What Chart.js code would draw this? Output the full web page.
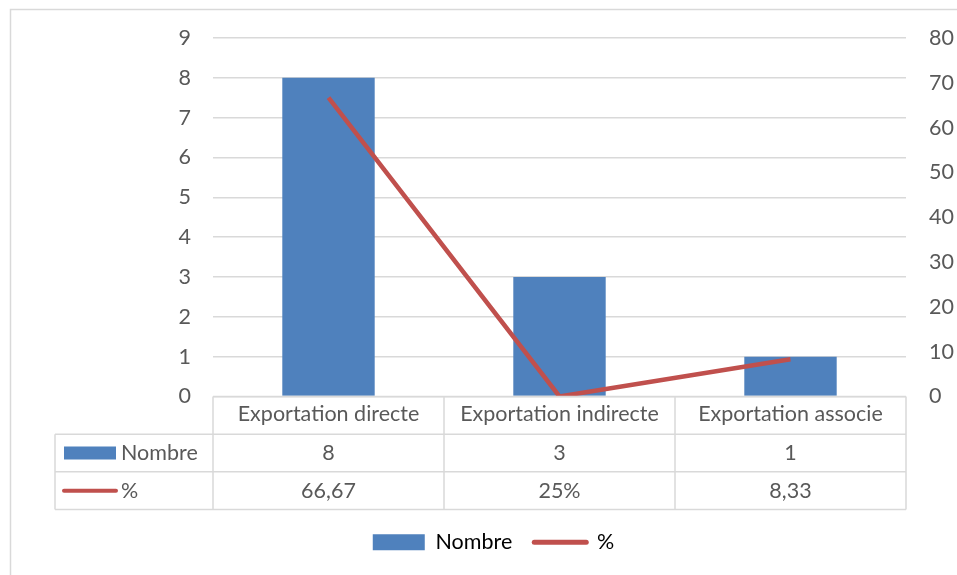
<!DOCTYPE html>
<html>
<head>
<meta charset="utf-8">
<script src="https://cdn.jsdelivr.net/npm/chart.js@4"></script>
<style>
  html, body { margin: 0; padding: 0; background: #fff; }
</style>
</head>
<body>
<canvas id="chart" width="957" height="575"></canvas>
<script>
const categories = ["Exportation directe", "Exportation indirecte", "Exportation associe"];
const nombre = [8, 3, 1];
const pourcent = [66.67, 0, 8.33];
const nombreText = ["8", "3", "1"];
const pourcentText = ["66,67", "25%", "8,33"];

const BLUE = "#4f81bd";
const RED = "#c0504d";
const GRID = "#d9d9d9";
const TEXT = "#595959";
const FONT = "Lato, 'Open Sans', sans-serif";
const FS = 21.5;

Chart.defaults.font.family = FONT;
Chart.defaults.font.size = FS;
Chart.defaults.color = TEXT;

// frame + data table under the plot
const tablePlugin = {
  id: "dataTable",
  beforeDraw(chart) {
    const ctx = chart.ctx;
    ctx.save();
    ctx.fillStyle = "#fff";
    ctx.fillRect(0, 0, chart.width, chart.height);
    ctx.strokeStyle = GRID;
    ctx.lineWidth = 1.5;
    ctx.beginPath();
    ctx.moveTo(10.5, chart.height);
    ctx.lineTo(10.5, 9.5);
    ctx.lineTo(chart.width, 9.5);
    ctx.stroke();
    ctx.restore();
  },
  afterDraw(chart) {
    const ctx = chart.ctx;
    const area = chart.chartArea;
    const x = chart.scales.x;
    const colW = area.width / categories.length;
    const rowH = x.height / 3;
    const top = area.bottom;
    const tableLeft = 55;

    ctx.save();
    ctx.strokeStyle = GRID;
    ctx.lineWidth = 1.5;
    ctx.beginPath();
    ctx.moveTo(area.left, top);
    ctx.lineTo(area.right, top);
    for (let r = 1; r <= 3; r++) {
      ctx.moveTo(tableLeft, top + rowH * r);
      ctx.lineTo(area.right, top + rowH * r);
    }
    ctx.moveTo(tableLeft, top + rowH);
    ctx.lineTo(tableLeft, top + rowH * 3);
    for (let i = 0; i <= categories.length; i++) {
      const px = area.left + colW * i;
      ctx.moveTo(px, top);
      ctx.lineTo(px, top + rowH * 3);
    }
    ctx.stroke();

    ctx.font = FS + "px " + FONT;
    ctx.textBaseline = "middle";
    const y1 = top + rowH * 1.5;
    const y2 = top + rowH * 2.5;

    // row keys
    ctx.fillStyle = BLUE;
    ctx.fillRect(64, y1 - 6.5, 52, 13);
    ctx.strokeStyle = RED;
    ctx.lineWidth = 4;
    ctx.lineCap = "round";
    ctx.beginPath();
    ctx.moveTo(64, y2);
    ctx.lineTo(116, y2);
    ctx.stroke();

    ctx.fillStyle = TEXT;
    ctx.textAlign = "left";
    ctx.fillText("Nombre", 121, y1);
    ctx.fillText("%", 121, y2);

    ctx.textAlign = "center";
    categories.forEach((c, i) => {
      const cx = x.getPixelForValue(i);
      ctx.fillText(nombreText[i], cx, y1);
      ctx.fillText(pourcentText[i], cx, y2);
    });
    ctx.restore();
  }
};

new Chart(document.getElementById("chart"), {
  data: {
    labels: categories,
    datasets: [
      {
        type: "line",
        label: "%",
        data: pourcent,
        yAxisID: "y1",
        borderColor: RED,
        backgroundColor: RED,
        borderWidth: 4.5,
        pointRadius: 0,
        tension: 0,
        order: 0
      },
      {
        type: "bar",
        label: "Nombre",
        data: nombre,
        yAxisID: "y",
        backgroundColor: BLUE,
        categoryPercentage: 1,
        barPercentage: 0.4,
        order: 1
      }
    ]
  },
  options: {
    responsive: false,
    animation: false,
    layout: { padding: { top: 38, left: 30, right: 0, bottom: 12 } },
    scales: {
      x: {
        grid: { display: false, drawTicks: false },
        border: { display: false },
        ticks: { padding: 5, maxRotation: 0 },
        afterFit(scale) { scale.height = 113; }
      },
      y: {
        position: "left",
        min: 0,
        max: 9,
        ticks: { stepSize: 1, padding: 22 },
        grid: { color: GRID, lineWidth: 1.5, drawTicks: false },
        border: { display: false },
        afterFit(scale) { scale.width = 183; }
      },
      y1: {
        position: "right",
        min: 0,
        max: 80,
        ticks: { stepSize: 10, padding: 23 },
        grid: { display: false, drawTicks: false },
        border: { display: false },
        afterFit(scale) { scale.width = 51; }
      }
    },
    plugins: {
      tooltip: { enabled: false },
      legend: {
        position: "bottom",
        labels: {
          usePointStyle: true,
          pointStyleWidth: 52,
          boxHeight: 16,
          padding: 22,
          generateLabels() {
            return [
              { text: "Nombre", fillStyle: BLUE, strokeStyle: BLUE, lineWidth: 0, pointStyle: "rect", datasetIndex: 1 },
              { text: "%", fillStyle: RED, strokeStyle: RED, lineWidth: 5, lineCap: "round", pointStyle: "line", datasetIndex: 0 }
            ];
          }
        }
      }
    }
  },
  plugins: [tablePlugin]
});
</script>
</body>
</html>
